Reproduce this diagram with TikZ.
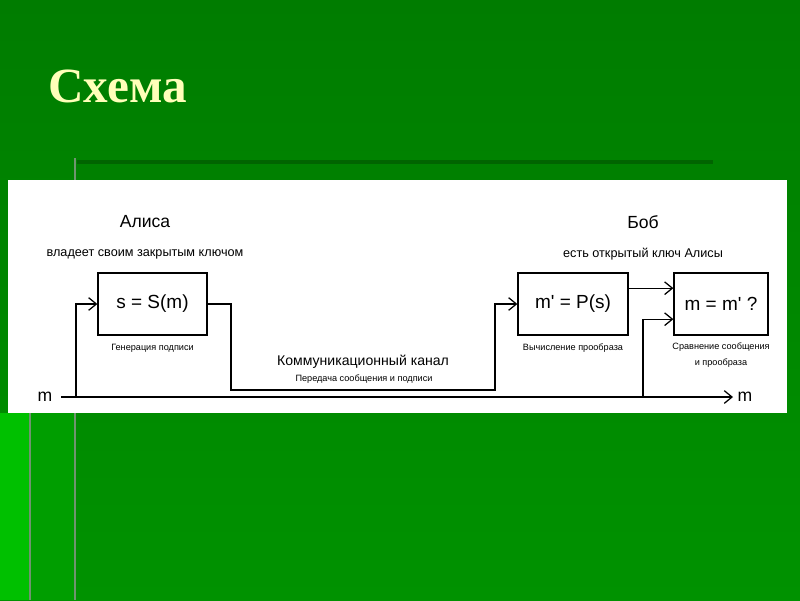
\documentclass[tikz,border=0pt]{standalone}
\usepackage{fontspec}
\setmainfont{Liberation Sans}
\newfontfamily\titlefont{Liberation Serif}
\usepackage{tikz}
\usetikzlibrary{arrows.meta,calc}

\definecolor{slidetop}{RGB}{0,124,0}
\definecolor{slidebot}{RGB}{0,146,0}
\definecolor{edgegreen}{RGB}{0,192,0}
\definecolor{midgreen}{RGB}{0,158,0}
\definecolor{bandgreen}{RGB}{0,128,0}
\definecolor{rulegreen}{RGB}{0,100,0}
\definecolor{rulegrey}{RGB}{112,148,112}
\definecolor{titleyellow}{RGB}{255,255,185}

\tikzset{
  box/.style={draw, line width=0.9pt, minimum height=1.55cm,
    font=\fontsize{13.5}{16}\selectfont},
  who/.style={font=\fontsize{12.5}{15}\selectfont},
  keylbl/.style={font=\fontsize{9}{11}\selectfont},
  tinylbl/.style={font=\fontsize{6.5}{9}\selectfont, align=center},
  arr/.style={line width=0.9pt, -{Straight Barb[length=5.5pt,width=9pt]}},
  wire/.style={line width=0.9pt}
}

\begin{document}
\begin{tikzpicture}[x=0.025cm, y=-0.025cm]
  \useasboundingbox (0,0) rectangle (800,600);

  % slide background
  \shade[top color=slidetop, bottom color=slidebot] (0,0) rectangle (800,600);
  \fill[edgegreen] (0,413) rectangle (29,600);
  \fill[midgreen] (31,413) rectangle (74,600);
  \fill[bandgreen] (77,160) rectangle (800,180);
  \draw[rulegrey, line width=2pt] (30,413) -- (30,600);
  \draw[rulegrey, line width=2pt] (75,158) -- (75,600);
  \draw[rulegreen, line width=2.2pt] (77,162) -- (713,162);

  \node[anchor=base west, inner sep=0, text=titleyellow,
    font=\titlefont\bfseries\fontsize{35}{40}\selectfont] (title) at (48,102) {Схема};

  % white panel
  \fill[white] (8,180) rectangle (787,413);

  % Alice
  \node[who] (alice) at (145,222) {Алиса};
  \node[keylbl] (alicekey) at (145,254) {владеет своим закрытым ключом};
  \node[box, minimum width=2.725cm] (sign) at (152.5,304) {s = S(m)};
  \node[tinylbl] (signlbl) at (152.5,348) {Генерация подписи};

  % channel
  \node[font=\fontsize{10}{12}\selectfont] (chan) at (363,362) {Коммуникационный канал};
  \node[tinylbl] (chanlbl) at (364,379) {Передача сообщения и подписи};

  % Bob
  \node[who] (bob) at (643,222) {Боб};
  \node[keylbl] (bobkey) at (643,254) {есть открытый ключ Алисы};
  \node[box, minimum width=2.75cm] (verify) at (573,304) {m\textquotesingle{} = P(s)};
  \node[tinylbl] (verifylbl) at (573,348) {Вычисление прообраза};
  \node[box, minimum width=2.35cm] (cmp) at (721,304) {m = m\textquotesingle{} ?};
  \node[tinylbl] (cmplbl) at (721,355) {Сравнение сообщения\\[2pt]и прообраза};

  % message line
  \node[who, anchor=east, inner sep=6pt] (min) at (61,397) {m};
  \node[who, anchor=west, inner sep=3pt] (mout) at (733,397) {m};
  \coordinate (split1) at (76,397);
  \coordinate (split2) at (643,397);
  \coordinate (chanL) at (231,390);
  \coordinate (chanR) at (495,390);

  \draw[arr] (min.east) -- (mout.west);
  \draw[arr] (split1) |- (sign.west);
  \draw[arr] (sign.east) -| (chanL) -- (chanR) |- (verify.west);
  \draw[arr] ($(verify.north east)!.25!(verify.south east)$) -- ($(cmp.north west)!.25!(cmp.south west)$);
  \draw[arr] (split2) |- ($(cmp.north west)!.74!(cmp.south west)$);
\end{tikzpicture}
\end{document}
